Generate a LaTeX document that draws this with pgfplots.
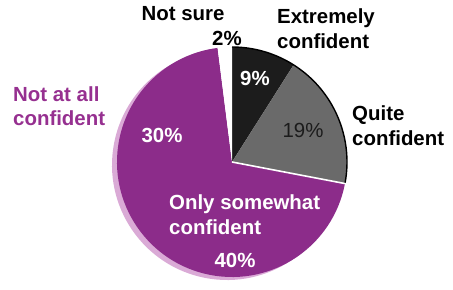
\documentclass[border=0pt]{standalone}
\usepackage{fontspec}
\setmainfont{Liberation Sans}
\usepackage{pgfplots}
\usepackage{pgfplotstable}
\pgfplotsset{compat=1.18}
\definecolor{pur}{RGB}{140,44,138}
\definecolor{purtxt}{RGB}{150,48,144}
\definecolor{shad}{RGB}{218,170,214}
\definecolor{gry}{RGB}{106,106,106}
\definecolor{blk}{RGB}{28,28,28}

\pgfplotstableread{
label pct
Extremely 9
Quite 19
Somewhat 40
NotAtAll 30
NotSure 2
}\piedata

\pgfplotstablegetelem{0}{pct}\of\piedata \let\pA\pgfplotsretval
\pgfplotstablegetelem{1}{pct}\of\piedata \let\pB\pgfplotsretval
\pgfplotstablegetelem{2}{pct}\of\piedata \let\pC\pgfplotsretval
\pgfplotstablegetelem{3}{pct}\of\piedata \let\pD\pgfplotsretval
\pgfplotstablegetelem{4}{pct}\of\piedata \let\pE\pgfplotsretval
\pgfmathsetmacro{\aO}{90}
\pgfmathsetmacro{\aA}{\aO-3.6*\pA}
\pgfmathsetmacro{\aB}{\aA-3.6*\pB}
\pgfmathsetmacro{\aC}{\aB-3.6*\pC}
\pgfmathsetmacro{\aD}{\aC-3.6*\pD}
\pgfmathsetmacro{\aE}{\aD-3.6*\pE}
\def\R{115bp}

\begin{document}
\begin{tikzpicture}
\begin{axis}[x=1bp,y=1bp,xmin=0,xmax=453,ymin=0,ymax=280,
  hide axis, clip=false, scale only axis]
\path (axis cs:0,0) rectangle (axis cs:453,280);
% shadow
\fill[shad] (axis cs:227,115) -- ++(\aB:\R) arc[start angle=\aB,end angle=\aD,radius=\R] -- cycle;
% slices (Only somewhat + Not at all share one colour, drawn as one region)
\fill[pur] (axis cs:232,118) -- ++(\aB:\R) arc[start angle=\aB,end angle=\aD,radius=\R] -- cycle;
\fill[blk] (axis cs:232,118) -- ++(\aO:\R) arc[start angle=\aO,end angle=\aA,radius=\R] -- cycle;
\fill[gry] (axis cs:232,118) -- ++(\aA:\R) arc[start angle=\aA,end angle=\aB,radius=\R] -- cycle;
\fill[white] (axis cs:232,118) -- ++(\aD:\R) arc[start angle=\aD,end angle=\aE,radius=\R] -- cycle;
% outlines
\draw[black,line width=1.4bp] (axis cs:232,118) ++(\aO:\R) arc[start angle=\aO,end angle=\aB,radius=\R];
\draw[white,line width=1.6bp] (axis cs:232,118) -- ++(\aB:\R+2bp);
% labels
\begin{scope}[font=\fontsize{20.5}{25}\selectfont\bfseries, inner sep=0pt]
\node[anchor=center] at (axis cs:183,266) {Not sure};
\node[anchor=center] at (axis cs:227,241.5) {2\%};
\node[anchor=north west,align=left] at (axis cs:277,271) {Extremely\\confident};
\node[anchor=center,white] at (axis cs:255,202) {9\%};
\node[anchor=center,blk,font=\fontsize{20.5}{25}\selectfont] at (axis cs:303,150) {19\%};
\node[anchor=north west,align=left] at (axis cs:352,174.5) {Quite\\confident};
\node[anchor=north west,align=left,purtxt] at (axis cs:13,194) {Not at all\\confident};
\node[anchor=center,white] at (axis cs:162,145) {30\%};
\node[anchor=north west,align=left,white] at (axis cs:169,85.5) {Only somewhat\\confident};
\node[anchor=center,white] at (axis cs:235,19.5) {40\%};
\end{scope}
\end{axis}
\end{tikzpicture}
\end{document}
